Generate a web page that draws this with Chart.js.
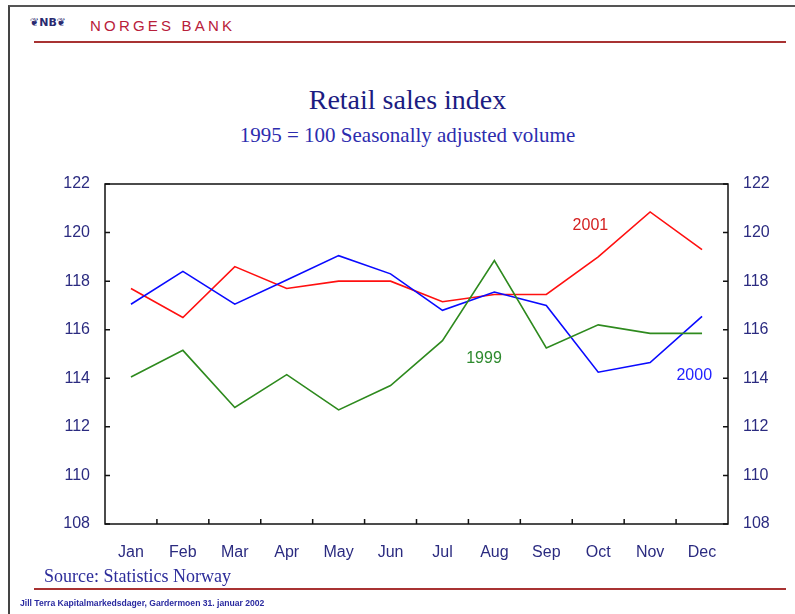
<!DOCTYPE html>
<html>
<head>
<meta charset="utf-8">
<script src="https://cdn.jsdelivr.net/npm/chart.js@4/dist/chart.umd.min.js"></script>
<style>
  body { margin: 0; background: #fff; }
  #page { position: relative; width: 795px; height: 614px; overflow: hidden; background: #fff; }
  #frame { position: absolute; left: 8px; top: 5px; width: 800px; height: 620px;
           border-left: 2px solid #444; border-top: 2px solid #555; }
  .rule { position: absolute; height: 2px; background: #a83232; }
  .txt { position: absolute; white-space: nowrap; }
  #logo { left: 30px; top: 16px; font: bold 11px "DejaVu Sans", sans-serif; color: #2a2a70; }
  #bank { left: 90px; top: 17px; font: 15px "Liberation Sans", Arial, sans-serif; color: #b8203a; letter-spacing: 3.2px; }
  #title { left: 0; width: 815px; text-align: center; top: 84px; font: 28px "Liberation Serif", "Times New Roman", serif; color: #1c1c82; }
  #subtitle { left: 0; width: 815px; text-align: center; top: 123px; font: 21px "Liberation Serif", "Times New Roman", serif; color: #2c2cae; }
  #source { left: 44px; top: 566px; font: 18px "Liberation Serif", "Times New Roman", serif; color: #2c2c9a; }
  #foot { left: 20px; top: 598px; font: bold 8.6px "Liberation Sans", Arial, sans-serif; color: #2a2aa0; }
  canvas { position: absolute; left: 0; top: 0; }
</style>
</head>
<body>
<div id="page">
  <div id="frame"></div>
  <div class="txt" id="logo">❦NB❦</div>
  <div class="txt" id="bank">NORGES BANK</div>
  <div class="rule" style="left:34px; top:41px; width:752px;"></div>
  <div class="txt" id="title">Retail sales index</div>
  <div class="txt" id="subtitle">1995 = 100 Seasonally adjusted volume</div>
  <canvas id="retailChart" width="795" height="614"></canvas>
  <div class="txt" id="source">Source: Statistics Norway</div>
  <div class="rule" style="left:34px; top:588px; width:752px;"></div>
  <div class="txt" id="foot">Jill Terra Kapitalmarkedsdager, Gardermoen 31. januar 2002</div>
</div>
<script>
// Data
const months = ['Jan', 'Feb', 'Mar', 'Apr', 'May', 'Jun', 'Jul', 'Aug', 'Sep', 'Oct', 'Nov', 'Dec'];
const sales1999 = [114.05, 115.15, 112.8, 114.15, 112.7, 113.7, 115.55, 118.85, 115.25, 116.2, 115.85, 115.85];
const sales2000 = [117.05, 118.4, 117.05, 118.05, 119.05, 118.3, 116.8, 117.55, 117.0, 114.25, 114.65, 116.55];
const sales2001 = [117.7, 116.5, 118.6, 117.7, 118.0, 118.0, 117.15, 117.45, 117.45, 119.0, 120.85, 119.3];
const yTicks = [108, 110, 112, 114, 116, 118, 120, 122];

const tickColor = '#2b2b80';
const axisFont = { family: '"Liberation Sans", Arial, sans-serif', size: 16 };

// Box round the plot with short inward tick marks
const frameBox = {
    id: 'frameBox',
    afterDraw(chart) {
        const { ctx, chartArea: a, scales } = chart;
        ctx.save();
        ctx.strokeStyle = '#111';
        ctx.lineWidth = 1.5;
        ctx.strokeRect(a.left, a.top, a.right - a.left, a.bottom - a.top);
        ctx.beginPath();
        yTicks.forEach(function(v) {
            const y = scales.y.getPixelForValue(v);
            ctx.moveTo(a.left, y); ctx.lineTo(a.left + 5, y);
            ctx.moveTo(a.right, y); ctx.lineTo(a.right - 5, y);
        });
        for (let i = 1; i < months.length; i++) {
            const x = (scales.x.getPixelForValue(i - 1) + scales.x.getPixelForValue(i)) / 2;
            ctx.moveTo(x, a.bottom); ctx.lineTo(x, a.bottom - 5);
        }
        ctx.stroke();
        ctx.restore();
    }
};

// Series names written next to their lines
const seriesNames = {
    id: 'seriesNames',
    afterDatasetsDraw(chart) {
        const { ctx, scales } = chart;
        const notes = [
            { text: '2001', at: 8.85, val: 120.3, color: '#d42020' },
            { text: '1999', at: 6.8,  val: 114.8, color: '#2e8a2e' },
            { text: '2000', at: 10.85, val: 114.1, color: '#2222ff' }
        ];
        ctx.save();
        ctx.font = '16px "Liberation Sans", Arial, sans-serif';
        ctx.textAlign = 'center';
        ctx.textBaseline = 'middle';
        notes.forEach(function(n) {
            ctx.fillStyle = n.color;
            ctx.fillText(n.text, scales.x.getPixelForValue(n.at), scales.y.getPixelForValue(n.val));
        });
        ctx.restore();
    }
};

function lineSet(label, data, color) {
    return {
        label: label,
        data: data,
        borderColor: color,
        backgroundColor: color,
        borderWidth: 1.6,
        pointRadius: 0,
        tension: 0,
        yAxisID: 'y'
    };
}

new Chart(document.getElementById('retailChart'), {
    type: 'line',
    data: {
        labels: months,
        datasets: [
            lineSet('1999', sales1999, '#2e8a1e'),
            lineSet('2000', sales2000, '#0a0aff'),
            lineSet('2001', sales2001, '#ff1010')
        ]
    },
    options: {
        responsive: false,
        animation: false,
        layout: { padding: { top: 184, left: 0, right: 0, bottom: 0 } },
        plugins: { legend: { display: false }, tooltip: { enabled: false } },
        scales: {
            x: {
                offset: true,
                grid: { display: false },
                border: { display: false },
                ticks: { color: tickColor, font: axisFont, padding: 11, maxRotation: 0 },
                afterFit: function(s) { s.height = 90; }
            },
            y: {
                position: 'left',
                min: 108, max: 122,
                grid: { display: false },
                border: { display: false },
                ticks: { stepSize: 2, color: tickColor, font: axisFont, padding: 7 },
                afterFit: function(s) { s.width = 105; }
            },
            y2: {
                position: 'right',
                min: 108, max: 122,
                grid: { display: false },
                border: { display: false },
                ticks: { stepSize: 2, color: tickColor, font: axisFont, padding: 7 },
                afterFit: function(s) { s.width = 67; }
            }
        }
    },
    plugins: [frameBox, seriesNames]
});
</script>
</body>
</html>
